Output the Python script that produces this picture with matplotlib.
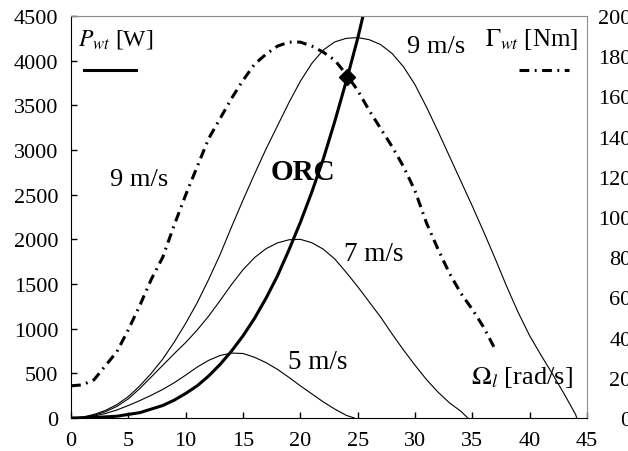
import matplotlib
matplotlib.use('Agg')
import matplotlib.pyplot as plt

plt.rcParams['font.family'] = 'Liberation Serif'
plt.rcParams['mathtext.fontset'] = 'stix'

# power curves P_wt(Omega) for 5, 7, 9 m/s
w9 = [0, 1, 2, 3, 4, 5, 6, 7, 8, 9, 10, 11, 12, 13, 14, 15, 16, 17, 18, 19, 20, 21, 22,
      23, 24, 25, 26, 27, 28, 29, 30, 31, 32, 33, 34, 35, 36, 37, 38, 39, 40, 41, 42,
      43, 44, 44.1]
p9 = [0, 10, 40, 85, 150, 240, 360, 500, 660, 850, 1060, 1290, 1550, 1830, 2140, 2440,
      2730, 3010, 3270, 3530, 3770, 3970, 4120, 4210, 4250, 4258, 4235, 4180, 4080, 3930,
      3730, 3480, 3210, 2930, 2650, 2370, 2080, 1780, 1470, 1180, 920, 700, 490, 270, 40, 0]

w7 = [0, 1, 2, 3, 4, 5, 6, 7, 8, 9, 10, 11, 12, 13, 14, 15, 16, 17, 18, 19, 20, 21, 22,
      23, 24, 25, 26, 27, 28, 29, 30, 31, 32, 33, 34, 34.6]
p7 = [0, 8, 30, 70, 130, 215, 330, 460, 590, 720, 845, 985, 1140, 1315, 1495, 1660, 1795,
      1895, 1960, 1995, 2000, 1962, 1890, 1780, 1630, 1470, 1300, 1130, 940, 760, 590, 430,
      290, 170, 75, 0]

w5 = [0, 1, 2, 3, 4, 5, 6, 7, 8, 9, 10, 11, 12, 13, 14, 15, 16, 17, 18, 19, 20, 21, 22,
      23, 24, 24.7]
p5 = [0, 6, 22, 50, 90, 140, 195, 255, 320, 395, 480, 570, 645, 700, 727, 722, 680, 620,
      545, 455, 360, 270, 180, 100, 30, 0]

# optimal regime characteristic
w_orc = [0, 2, 4, 6, 8, 9, 10, 11, 12, 13, 14, 15, 16, 17, 18, 19, 20, 21, 22, 23, 24.1,
         25, 25.5]
p_orc = [0, 5, 20, 60, 140, 200, 275, 360, 470, 600, 750, 920, 1115, 1340, 1590, 1880,
         2190, 2530, 2900, 3320, 3816, 4250, 4520]
w_opt, p_opt = 24.1, 3816

# torque Gamma_wt at 9 m/s (right axis)
w_t = [0, 1, 2, 3, 4, 5, 6, 7, 8, 9, 10, 11, 12, 13, 14, 15, 16, 17, 18, 19, 20, 21, 22,
       23, 24, 25, 26, 27, 28, 29, 30, 31, 32, 33, 34, 35, 36, 37]
t9 = [16, 16.5, 19, 26, 33, 44, 56, 69, 80, 96, 111, 125, 139, 149, 159, 168, 176, 181,
      185, 187, 187, 185, 182, 178, 171, 163, 153, 144, 135, 125, 113, 97, 84, 72, 62, 54,
      45, 34]

fig = plt.figure(figsize=(6.28, 4.52), dpi=100)
ax = fig.add_axes([0.1131, 0.0730, 0.8217, 0.8894])
ax2 = ax.twinx()

ax.plot(w9, p9, color='black', lw=0.8)
ax.plot(w7, p7, color='black', lw=0.8)
ax.plot(w5, p5, color='black', lw=0.8)
ax.plot(w_orc, p_orc, color='black', lw=2.2)
ax.plot([w_opt], [p_opt], marker='D', color='black', ms=8.5, zorder=5)

dashdot = (0, (3.2, 1.8, 0.6, 1.8))
ax2.plot(w_t, t9, color='black', lw=2.2, linestyle=dashdot)

ax.set_xlim(0, 45)
ax.set_ylim(0, 4500)
ax.set_xticks(range(0, 46, 5))
ax.set_yticks(range(0, 4501, 500))
ax2.set_ylim(0, 200)
ax2.set_yticks(range(0, 201, 20))

ax.tick_params(direction='in', length=4, width=1, labelsize=16, top=False, right=False)
ax.tick_params(axis='y', pad=9)
ax.tick_params(axis='x', pad=9)
ax2.tick_params(axis='y', length=0, labelsize=16, pad=32)
for tl in ax2.get_yticklabels():
    tl.set_ha('right')

for s in ax2.spines.values():
    s.set_visible(False)
ax.spines['top'].set_color('#8c8c8c')
ax.spines['right'].set_color('#8c8c8c')

# legend-like labels
ax.text(0.013, 0.943, r'$P_{wt}$ [W]', transform=ax.transAxes, fontsize=17,
        ha='left', va='center')
ax.plot([0.025, 0.126], [0.866, 0.866], transform=ax.transAxes, color='black', lw=2.2)
ax.text(0.983, 0.943, r'$\Gamma_{wt}$ [Nm]', transform=ax.transAxes, fontsize=18,
        ha='right', va='center')
ax.plot([0.868, 0.965], [0.866, 0.866], transform=ax.transAxes, color='black', lw=2.2,
        linestyle=dashdot)

ax.text(31.8, 4163, '9 m/s', fontsize=19, ha='center', va='center')
ax.text(5.9, 2674, '9 m/s', fontsize=19, ha='center', va='center')
ax.text(20.2, 2764, 'ORC', fontsize=21, fontweight='bold', ha='center', va='center')
ax.text(26.4, 1846, '7 m/s', fontsize=19.5, ha='center', va='center')
ax.text(21.5, 638, '5 m/s', fontsize=19.5, ha='center', va='center')
ax.text(39.3, 459, r'$\Omega_l$ [rad/s]', fontsize=19, ha='center', va='center')

fig.savefig('out.png', dpi=100)
